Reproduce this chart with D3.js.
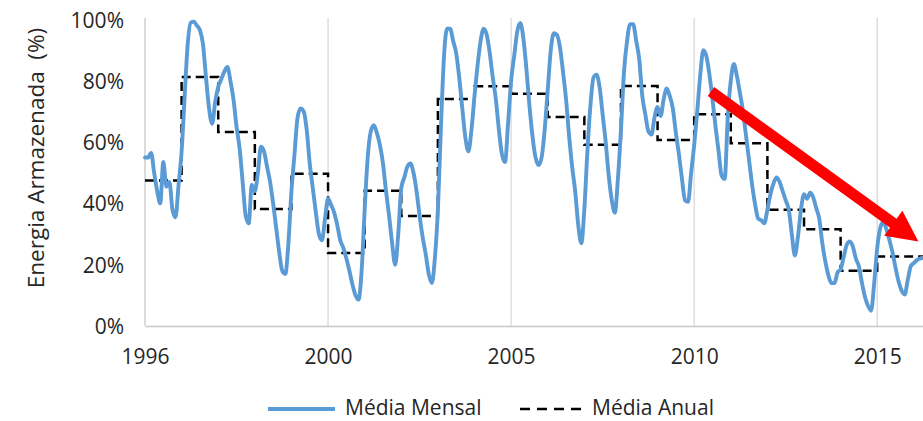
<!DOCTYPE html>
<html><head><meta charset="utf-8">
<script src="https://cdn.jsdelivr.net/npm/d3@7"></script>
<style>
body{margin:0;background:#fff}
svg{display:block}
text{font-family:"Open Sans",sans-serif;fill:#262626}
</style>
</head><body>
<svg id="c" width="923" height="421"></svg>
<script>
// Monthly stored energy (%), Jan 1995 .. Apr 2016 (one row per year)
const monthlyMean = [
  55, 55, 56.5, 50, 44, 40, 53.5, 45.5, 47, 38, 35.5, 46,
  57, 75, 92, 99, 99.3, 98, 96.5, 92, 81, 71, 66, 73,
  78, 80.5, 83, 84.5, 80, 74, 65, 58, 47, 36, 33.5, 46,
  44, 50, 58.5, 57, 52, 47, 40, 32, 24, 18, 17, 27,
  44, 56, 68, 71, 70, 64, 53, 45, 37, 30, 28, 35,
  41.5, 39.5, 37, 33, 28, 25.5, 22, 18, 13.5, 10, 8.6, 18,
  38, 55, 63.5, 65.5, 63, 59, 53, 44, 36, 27, 20, 30,
  45, 48.5, 52, 53, 50, 44, 36, 29, 23.5, 17, 14, 22,
  38, 65, 88, 97, 97, 93, 89, 81, 71, 61.5, 57, 64,
  75, 85, 93, 97, 95, 89, 81, 74, 64, 56, 53.5, 66,
  80, 88, 96, 98.9, 94, 84, 72, 62, 55, 52.5, 55, 64,
  77, 90, 95.5, 95, 91, 83, 74, 62, 52, 44, 33, 27,
  38, 57, 72, 81, 82, 78, 69, 60, 49, 41, 37, 48,
  64, 83, 93, 98.5, 98.5, 93, 87, 75, 69, 63.5, 62.5, 68,
  71.5, 68.5, 74, 77.5, 75, 71, 63, 56, 48, 41, 40.5, 50,
  59, 70, 82, 90, 88, 82, 74, 65, 57, 49, 48, 68,
  80, 85.5, 81.5, 76, 70, 62, 54, 46, 39.5, 35, 34.5, 33.5,
  38, 43, 46.5, 48.5, 47, 44, 41, 38, 30, 23, 29, 38,
  43, 41.5, 43.5, 42, 38.5, 35, 27, 21, 16.5, 14, 14, 17.5,
  18.5, 22.5, 26.5, 27.6, 26, 22, 19.5, 14, 9.5, 6.5, 5, 14,
  25.5, 32, 34, 31.5, 28, 24, 19, 14.5, 11.5, 10.3, 15, 19.5,
  20.5, 21.5, 22, 22.3
];
const annualYears = [1995,1996,1997,1998,1999,2000,2001,2002,2003,2004,2005,2006,2007,2008,2009,2010,2011,2012,2013,2014,2015,2016];
const annualMean  = [47.5,81.2,63.3,38.2,49.7,23.8,44.1,35.9,74.1,78.2,75.8,68.2,59.1,78.3,60.7,69.1,59.6,37.9,31.6,18.0,22.7,22.7];
const xTickIndex  = [0,60,120,180,240];
const xTickLabels = ["1996","2000","2005","2010","2015"];
const yTickValues = [0,20,40,60,80,100];
const seriesNames = ["Média Mensal","Média Anual"];
const yTitle = "Energia Armazenada\u00a0\u00a0(%)";
// trend arrow annotation in data units (month index, %)
const arrowFrom = [185.5, 76.5];
const arrowTo   = [253.5, 27.6];

const svg = d3.select("#c");
const lastIdx = monthlyMean.length - 1;
const x = d3.scaleLinear().domain([0, lastIdx]).range([145, 923]);
const y = d3.scaleLinear().domain([0, 100]).range([326, 19.5]);
const plotTop = 18;

// vertical gridlines
svg.append("g").selectAll("line").data(xTickIndex.slice(1)).join("line")
  .attr("x1", d => x(d)).attr("x2", d => x(d))
  .attr("y1", plotTop).attr("y2", y(0))
  .attr("stroke", "#d9d9d9").attr("stroke-width", 1.3);

// y axis line
svg.append("line").attr("x1", x(0)).attr("x2", x(0)).attr("y1", plotTop).attr("y2", y(0))
  .attr("stroke", "#c8c8c8").attr("stroke-width", 1.3);

// x axis
const gx = svg.append("g").attr("transform", `translate(0,${y(0)})`)
  .call(d3.axisBottom(x).tickValues(xTickIndex).tickSize(0).tickSizeOuter(0)
    .tickFormat((d, i) => xTickLabels[i]));
gx.select(".domain").attr("stroke", "#c8c8c8").attr("stroke-width", 1.3);
gx.selectAll("text").attr("y", 38).attr("dy", null).attr("font-size", 21)
  .attr("font-family", '"Open Sans",sans-serif').attr("fill", "#262626");

// y axis
const gy = svg.append("g").attr("transform", `translate(${x(0)},0)`)
  .call(d3.axisLeft(y).tickValues(yTickValues).tickSize(0).tickFormat(d => d + "%"));
gy.select(".domain").remove();
gy.selectAll("text").attr("x", -21).attr("dy", "0.36em").attr("font-size", 21)
  .attr("font-family", '"Open Sans",sans-serif').attr("fill", "#262626");

// y title
svg.append("text").attr("transform", "translate(44,158) rotate(-90)")
  .attr("text-anchor", "middle").attr("font-size", 22.5).text(yTitle);

// annual mean step line
const annualPts = annualYears.map((yr, k) => [(yr - annualYears[0]) * 12, annualMean[k]]);
annualPts.push([lastIdx, annualMean[annualMean.length - 1]]);
svg.append("path").datum(annualPts)
  .attr("fill", "none").attr("stroke", "#000").attr("stroke-width", 2.5)
  .attr("stroke-dasharray", "9,5")
  .attr("d", d3.line().x(d => x(d[0])).y(d => y(d[1])).curve(d3.curveStepAfter));

// monthly line
svg.append("path").datum(monthlyMean)
  .attr("fill", "none").attr("stroke", "#5b9bd5").attr("stroke-width", 3.9)
  .attr("stroke-linejoin", "round").attr("stroke-linecap", "round")
  .attr("d", d3.line().x((d, i) => x(i)).y(d => y(d)).curve(d3.curveMonotoneX));

// arrow
(function(){
  const p0 = [x(arrowFrom[0]), y(arrowFrom[1])];
  const p1 = [x(arrowTo[0]), y(arrowTo[1])];
  const dx = p1[0]-p0[0], dy = p1[1]-p0[1], L = Math.hypot(dx, dy);
  const u = [dx/L, dy/L], n = [-u[1], u[0]];
  const hw = 5.5, hh = 15.5, hl = 31;
  const b = [p1[0]-u[0]*hl, p1[1]-u[1]*hl];
  const pts = [
    [p0[0]+n[0]*hw, p0[1]+n[1]*hw],
    [b[0]+n[0]*hw, b[1]+n[1]*hw],
    [b[0]+n[0]*hh, b[1]+n[1]*hh],
    p1,
    [b[0]-n[0]*hh, b[1]-n[1]*hh],
    [b[0]-n[0]*hw, b[1]-n[1]*hw],
    [p0[0]-n[0]*hw, p0[1]-n[1]*hw]
  ];
  svg.append("polygon").attr("points", pts.map(p => p.join(",")).join(" ")).attr("fill", "#ff0000");
})();

// legend
const lg = svg.append("g");
lg.append("line").attr("x1", 268).attr("x2", 335).attr("y1", 409).attr("y2", 409)
  .attr("stroke", "#5b9bd5").attr("stroke-width", 3.9);
lg.append("text").attr("x", 345).attr("y", 415).attr("font-size", 21).text(seriesNames[0]);
lg.append("line").attr("x1", 520).attr("x2", 582).attr("y1", 409).attr("y2", 409)
  .attr("stroke", "#000").attr("stroke-width", 2.5).attr("stroke-dasharray", "10,7");
lg.append("text").attr("x", 592).attr("y", 415).attr("font-size", 21).text(seriesNames[1]);
</script>
</body></html>
